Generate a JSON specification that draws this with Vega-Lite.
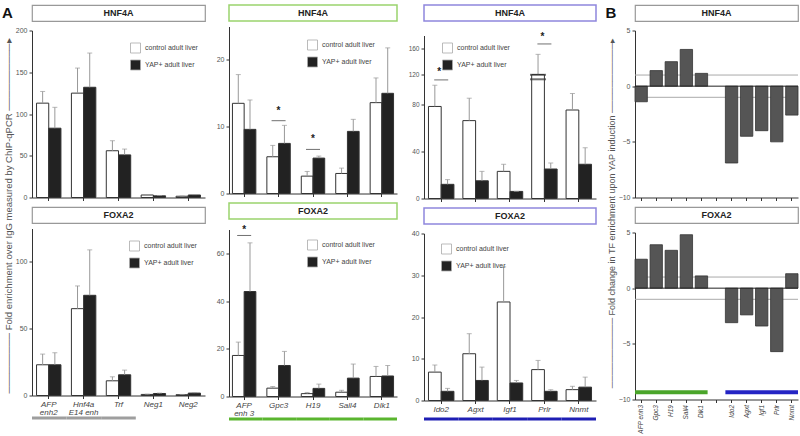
{
"$schema":"https://vega.github.io/schema/vega-lite/v6.json",
"background":"white",
"padding":{"left":0,"top":4,"right":2,"bottom":0},
"config":{"view":{"stroke":null},"font":"Liberation Sans",
 "axis":{"domainColor":"#333","tickColor":"#333","labelColor":"#444","labelFontSize":7,"tickSize":3,"grid":false,"labelPadding":2},
 "axisY":{"labelOverlap":false,"labelColor":"#555"},
 "axisX":{"labelFontStyle":"italic","labelFontSize":8,"labelAngle":0,"labelLineHeight":8},
 "legend":{"orient":"none","title":null,"symbolType":"square","symbolSize":100,"symbolStrokeColor":"#aaa","symbolStrokeWidth":0.8,"labelFontSize":7,"labelColor":"#444","rowPadding":2,"labelOffset":4}},
"datasets":{
 "c1h":[
  {"gene":"AFP|enh2","condition":"control adult liver","value":113,"hi":127},
  {"gene":"AFP|enh2","condition":"YAP+ adult liver","value":83,"hi":108},
  {"gene":"Hnf4a|E14 enh","condition":"control adult liver","value":125,"hi":155},
  {"gene":"Hnf4a|E14 enh","condition":"YAP+ adult liver","value":132,"hi":173},
  {"gene":"Trf","condition":"control adult liver","value":56,"hi":68},
  {"gene":"Trf","condition":"YAP+ adult liver","value":51,"hi":58},
  {"gene":"Neg1","condition":"control adult liver","value":3,"hi":3.6},
  {"gene":"Neg1","condition":"YAP+ adult liver","value":2,"hi":2.4},
  {"gene":"Neg2","condition":"control adult liver","value":1.5,"hi":1.8},
  {"gene":"Neg2","condition":"YAP+ adult liver","value":3,"hi":3.5}],
 "c1f":[
  {"gene":"AFP|enh2","condition":"control adult liver","value":23,"hi":31},
  {"gene":"AFP|enh2","condition":"YAP+ adult liver","value":23,"hi":32},
  {"gene":"Hnf4a|E14 enh","condition":"control adult liver","value":65,"hi":82},
  {"gene":"Hnf4a|E14 enh","condition":"YAP+ adult liver","value":75,"hi":109},
  {"gene":"Trf","condition":"control adult liver","value":11,"hi":14},
  {"gene":"Trf","condition":"YAP+ adult liver","value":15.5,"hi":19},
  {"gene":"Neg1","condition":"control adult liver","value":0.8,"hi":1},
  {"gene":"Neg1","condition":"YAP+ adult liver","value":1.5,"hi":1.8},
  {"gene":"Neg2","condition":"control adult liver","value":0.6,"hi":0.8},
  {"gene":"Neg2","condition":"YAP+ adult liver","value":1.8,"hi":2.2}],
 "c2h":[
  {"gene":"AFP|enh 3","condition":"control adult liver","value":13.5,"hi":17.8},
  {"gene":"AFP|enh 3","condition":"YAP+ adult liver","value":9.6,"hi":14},
  {"gene":"Gpc3","condition":"control adult liver","value":5.5,"hi":7.2},
  {"gene":"Gpc3","condition":"YAP+ adult liver","value":7.5,"hi":10.2},
  {"gene":"H19","condition":"control adult liver","value":2.6,"hi":3.3},
  {"gene":"H19","condition":"YAP+ adult liver","value":5.3,"hi":5.6},
  {"gene":"Sall4","condition":"control adult liver","value":3,"hi":3.8},
  {"gene":"Sall4","condition":"YAP+ adult liver","value":9.3,"hi":11.1},
  {"gene":"Dlk1","condition":"control adult liver","value":13.6,"hi":17.3},
  {"gene":"Dlk1","condition":"YAP+ adult liver","value":15,"hi":21.8}],
 "c2f":[
  {"gene":"AFP|enh 3","condition":"control adult liver","value":17.2,"hi":22.8},
  {"gene":"AFP|enh 3","condition":"YAP+ adult liver","value":44,"hi":64.4},
  {"gene":"Gpc3","condition":"control adult liver","value":3.5,"hi":4.2},
  {"gene":"Gpc3","condition":"YAP+ adult liver","value":13,"hi":18.9},
  {"gene":"H19","condition":"control adult liver","value":1.2,"hi":1.7},
  {"gene":"H19","condition":"YAP+ adult liver","value":3.4,"hi":5.2},
  {"gene":"Sall4","condition":"control adult liver","value":1.8,"hi":2.6},
  {"gene":"Sall4","condition":"YAP+ adult liver","value":7.7,"hi":13.6},
  {"gene":"Dlk1","condition":"control adult liver","value":8.4,"hi":12.6},
  {"gene":"Dlk1","condition":"YAP+ adult liver","value":8.6,"hi":13}],
 "c3h":[
  {"gene":"Ido2","condition":"control adult liver","value":78,"hi":96},
  {"gene":"Ido2","condition":"YAP+ adult liver","value":12,"hi":16},
  {"gene":"Agxt","condition":"control adult liver","value":66,"hi":85},
  {"gene":"Agxt","condition":"YAP+ adult liver","value":15,"hi":23},
  {"gene":"Igf1","condition":"control adult liver","value":23,"hi":29},
  {"gene":"Igf1","condition":"YAP+ adult liver","value":6,"hi":6},
  {"gene":"Prlr","condition":"control adult liver","value":120,"hi":151},
  {"gene":"Prlr","condition":"YAP+ adult liver","value":25,"hi":30},
  {"gene":"Nnmt","condition":"control adult liver","value":75,"hi":89},
  {"gene":"Nnmt","condition":"YAP+ adult liver","value":29,"hi":43}],
 "c3f":[
  {"gene":"Ido2","condition":"control adult liver","value":6.8,"hi":8.5},
  {"gene":"Ido2","condition":"YAP+ adult liver","value":2.2,"hi":2.9},
  {"gene":"Agxt","condition":"control adult liver","value":11.2,"hi":16},
  {"gene":"Agxt","condition":"YAP+ adult liver","value":4.8,"hi":8},
  {"gene":"Igf1","condition":"control adult liver","value":23.6,"hi":32},
  {"gene":"Igf1","condition":"YAP+ adult liver","value":4.2,"hi":4.8},
  {"gene":"Prlr","condition":"control adult liver","value":7.4,"hi":9.6},
  {"gene":"Prlr","condition":"YAP+ adult liver","value":2.2,"hi":2.6},
  {"gene":"Nnmt","condition":"control adult liver","value":2.6,"hi":3.4},
  {"gene":"Nnmt","condition":"YAP+ adult liver","value":3.2,"hi":5.6}],
 "s2h":[{"gene":"Gpc3","br":10.9,"star":12.4},{"gene":"H19","br":6.6,"star":8.1}],
 "s2f":[{"gene":"AFP|enh 3","br":67.5,"star":69.8}],
 "s3h":[{"gene":"Ido2","br":102,"star":124},{"gene":"Prlr","br":167,"star":177}],
 "brk":[{"gene":"Prlr","condition":"control adult liver","v":104},{"gene":"Prlr","condition":"control adult liver","v":119}],
 "bh":[{"gene":"AFP enh3","fc":-1.4},{"gene":"Gpc3","fc":1.4},{"gene":"H19","fc":2.2},{"gene":"Sall4","fc":3.3},{"gene":"Dlk1","fc":1.15},{"gene":"Ido2","fc":-6.9},{"gene":"Agxt","fc":-4.5},{"gene":"Igf1","fc":-4.0},{"gene":"Prlr","fc":-5.0},{"gene":"Nnmt","fc":-2.6}],
 "bf":[{"gene":"AFP enh3","fc":2.6},{"gene":"Gpc3","fc":3.9},{"gene":"H19","fc":3.4},{"gene":"Sall4","fc":4.8},{"gene":"Dlk1","fc":1.1},{"gene":"Ido2","fc":-3.1},{"gene":"Agxt","fc":-2.4},{"gene":"Igf1","fc":-3.4},{"gene":"Prlr","fc":-5.7},{"gene":"Nnmt","fc":1.3}]
},
"spacing":1,
"resolve":{"scale":{"color":"independent","xOffset":"independent"}},
"hconcat":[
 {"spacing":8,"vconcat":[
  {"width":13,"height":16,"data":{"values":[{"t":"A"}]},"mark":{"type":"text","fontSize":15,"fontWeight":"bold","dx":1,"color":"#111"},"encoding":{"text":{"field":"t"}}},
  {"width":13,"height":366,"data":{"values":[{"t":"───────── Fold enrichment over IgG measured by ChIP-qPCR ──────────▸"}]},"mark":{"type":"text","angle":270,"fontSize":9.5,"color":"#555","dy":2.5,"dx":-4},"encoding":{"text":{"field":"t"}}}
 ]},
 {"spacing":10,"resolve":{"scale":{"color":"independent","xOffset":"independent"}},"hconcat":[
  {"spacing":4.5,"resolve":{"scale":{"color":"independent","xOffset":"independent"}},"vconcat":[
   {"width":173,"height":16,"view":{"stroke":"#999","strokeWidth":1.2,"fill":"white"},"data":{"values":[{"t":"HNF4A"}]},"mark":{"type":"text","fontWeight":"bold","fontSize":9,"color":"#222"},"encoding":{"text":{"field":"t"}}},
   {"width":173,"height":167,"data":{"name":"c1h"},
    "encoding":{"x":{"field":"gene","type":"nominal","sort":null,"title":null,"scale":{"domain":["AFP|enh2","Hnf4a|E14 enh","Trf","Neg1","Neg2"],"paddingInner":0.3,"paddingOuter":0.13},"axis":{"labels":false}},
     "xOffset":{"field":"condition","type":"nominal","sort":null,"scale":{"domain":["control adult liver","YAP+ adult liver"],"paddingInner":0,"paddingOuter":0}}},
    "layer":[
     {"mark":{"type":"bar","stroke":"#333","strokeWidth":1},"encoding":{"y":{"field":"value","type":"quantitative","title":null,"scale":{"domain":[0,200],"nice":false},"axis":{"values":[0,50,100,150,200]}},
       "color":{"field":"condition","type":"nominal","scale":{"domain":["control adult liver","YAP+ adult liver"],"range":["#ffffff","#222222"]},"legend":{"legendX":98,"legendY":12}}}},
     {"mark":{"type":"rule","color":"#999"},"encoding":{"y":{"field":"hi","type":"quantitative","title":null},"y2":{"field":"value"}}},
     {"mark":{"type":"tick","color":"#999","thickness":1,"size":5},"encoding":{"y":{"field":"hi","type":"quantitative","title":null}}}
    ]},
   {"width":173,"height":16,"view":{"stroke":"#999","strokeWidth":1.2,"fill":"white"},"data":{"values":[{"t":"FOXA2"}]},"mark":{"type":"text","fontWeight":"bold","fontSize":9,"color":"#222"},"encoding":{"text":{"field":"t"}}},
   {"spacing":0,"resolve":{"scale":{"color":"independent","xOffset":"independent"}},"vconcat":[
    {"width":173,"height":167,"data":{"name":"c1f"},
     "encoding":{"x":{"field":"gene","type":"nominal","sort":null,"title":null,"scale":{"domain":["AFP|enh2","Hnf4a|E14 enh","Trf","Neg1","Neg2"],"paddingInner":0.3,"paddingOuter":0.13},"axis":{"labelExpr":"split(datum.label, '|')"}},
      "xOffset":{"field":"condition","type":"nominal","sort":null,"scale":{"domain":["control adult liver","YAP+ adult liver"],"paddingInner":0,"paddingOuter":0}}},
     "layer":[
      {"mark":{"type":"bar","stroke":"#333","strokeWidth":1},"encoding":{"y":{"field":"value","type":"quantitative","title":null,"scale":{"domain":[0,125],"nice":false},"axis":{"values":[0,25,50,75,100,125]}},
        "color":{"field":"condition","type":"nominal","scale":{"domain":["control adult liver","YAP+ adult liver"],"range":["#ffffff","#222222"]},"legend":{"legendX":97,"legendY":12}}}},
      {"mark":{"type":"rule","color":"#999"},"encoding":{"y":{"field":"hi","type":"quantitative","title":null},"y2":{"field":"value"}}},
      {"mark":{"type":"tick","color":"#999","thickness":1,"size":5},"encoding":{"y":{"field":"hi","type":"quantitative","title":null}}}
     ]},
    {"width":173,"height":3,"data":{"values":[{"gene":"AFP|enh2","set":"control loci"},{"gene":"Hnf4a|E14 enh","set":"control loci"},{"gene":"Trf","set":"control loci"}]},"mark":{"type":"bar"},
     "encoding":{"x":{"field":"gene","type":"nominal","sort":null,"scale":{"domain":["AFP|enh2","Hnf4a|E14 enh","Trf","Neg1","Neg2"],"paddingInner":0,"paddingOuter":0},"axis":null},"color":{"field":"set","type":"nominal","scale":{"range":["#9e9e9e"]},"legend":null}}}
   ]}
  ]},
  {"spacing":4.5,"resolve":{"scale":{"color":"independent","xOffset":"independent"}},"vconcat":[
   {"width":168,"height":16,"view":{"stroke":"#9bd36d","strokeWidth":1.5,"fill":"white"},"data":{"values":[{"t":"HNF4A"}]},"mark":{"type":"text","fontWeight":"bold","fontSize":9,"color":"#222"},"encoding":{"text":{"field":"t"}}},
   {"width":168,"height":167,
    "layer":[
     {"data":{"name":"c2h"},
      "encoding":{"x":{"field":"gene","type":"nominal","sort":null,"title":null,"scale":{"domain":["AFP|enh 3","Gpc3","H19","Sall4","Dlk1"],"paddingInner":0.32,"paddingOuter":0.1},"axis":{"labels":false}},
       "xOffset":{"field":"condition","type":"nominal","sort":null,"scale":{"domain":["control adult liver","YAP+ adult liver"],"paddingInner":0,"paddingOuter":0}}},
      "layer":[
       {"mark":{"type":"bar","stroke":"#333","strokeWidth":1},"encoding":{"y":{"field":"value","type":"quantitative","title":null,"scale":{"domain":[0,25],"nice":false},"axis":{"values":[0,5,10,15,20,25]}},
         "color":{"field":"condition","type":"nominal","scale":{"domain":["control adult liver","YAP+ adult liver"],"range":["#ffffff","#222222"]},"legend":{"legendX":78,"legendY":13}}}},
       {"mark":{"type":"rule","color":"#999"},"encoding":{"y":{"field":"hi","type":"quantitative","title":null},"y2":{"field":"value"}}},
       {"mark":{"type":"tick","color":"#999","thickness":1,"size":5},"encoding":{"y":{"field":"hi","type":"quantitative","title":null}}}
      ]},
     {"data":{"name":"s2h"},"encoding":{"x":{"field":"gene","type":"nominal","sort":null,"title":null}},"layer":[
       {"mark":{"type":"tick","color":"#333","thickness":1,"size":14},"encoding":{"y":{"field":"br","type":"quantitative","title":null}}},
       {"mark":{"type":"text","fontSize":10,"fontWeight":"bold","color":"#222"},"encoding":{"y":{"field":"star","type":"quantitative","title":null},"text":{"value":"*"}}}
     ]}
    ]},
   {"width":168,"height":16,"view":{"stroke":"#9bd36d","strokeWidth":1.5,"fill":"white"},"data":{"values":[{"t":"FOXA2"}]},"mark":{"type":"text","fontWeight":"bold","fontSize":9,"color":"#222"},"encoding":{"text":{"field":"t"}}},
   {"spacing":0,"resolve":{"scale":{"color":"independent","xOffset":"independent"}},"vconcat":[
    {"width":168,"height":167,
     "layer":[
      {"data":{"name":"c2f"},
       "encoding":{"x":{"field":"gene","type":"nominal","sort":null,"title":null,"scale":{"domain":["AFP|enh 3","Gpc3","H19","Sall4","Dlk1"],"paddingInner":0.32,"paddingOuter":0.1},"axis":{"labelExpr":"split(datum.label, '|')"}},
        "xOffset":{"field":"condition","type":"nominal","sort":null,"scale":{"domain":["control adult liver","YAP+ adult liver"],"paddingInner":0,"paddingOuter":0}}},
       "layer":[
        {"mark":{"type":"bar","stroke":"#333","strokeWidth":1},"encoding":{"y":{"field":"value","type":"quantitative","title":null,"scale":{"domain":[0,70],"nice":false},"axis":{"values":[0,10,20,30,40,50,60,70]}},
          "color":{"field":"condition","type":"nominal","scale":{"domain":["control adult liver","YAP+ adult liver"],"range":["#ffffff","#222222"]},"legend":{"legendX":78,"legendY":10}}}},
        {"mark":{"type":"rule","color":"#999"},"encoding":{"y":{"field":"hi","type":"quantitative","title":null},"y2":{"field":"value"}}},
        {"mark":{"type":"tick","color":"#999","thickness":1,"size":5},"encoding":{"y":{"field":"hi","type":"quantitative","title":null}}}
       ]},
      {"data":{"name":"s2f"},"encoding":{"x":{"field":"gene","type":"nominal","sort":null,"title":null}},"layer":[
        {"mark":{"type":"tick","color":"#333","thickness":1,"size":14},"encoding":{"y":{"field":"br","type":"quantitative","title":null}}},
        {"mark":{"type":"text","fontSize":10,"fontWeight":"bold","color":"#222"},"encoding":{"y":{"field":"star","type":"quantitative","title":null},"text":{"value":"*"}}}
      ]}
     ]},
    {"width":168,"height":3,"data":{"values":[{"gene":"AFP|enh 3","set":"fetal"},{"gene":"Gpc3","set":"fetal"},{"gene":"H19","set":"fetal"},{"gene":"Sall4","set":"fetal"},{"gene":"Dlk1","set":"fetal"}]},"mark":{"type":"bar"},
     "encoding":{"x":{"field":"gene","type":"nominal","sort":null,"scale":{"domain":["AFP|enh 3","Gpc3","H19","Sall4","Dlk1"],"paddingInner":0,"paddingOuter":0},"axis":null},"color":{"field":"set","type":"nominal","scale":{"range":["#5ab52f"]},"legend":null}}}
   ]}
  ]},
  {"spacing":4.5,"resolve":{"scale":{"color":"independent","xOffset":"independent"}},"vconcat":[
   {"width":172,"height":16,"view":{"stroke":"#8f86dd","strokeWidth":1.5,"fill":"white"},"data":{"values":[{"t":"HNF4A"}]},"mark":{"type":"text","fontWeight":"bold","fontSize":9,"color":"#222"},"encoding":{"text":{"field":"t"}}},
   {"width":172,"height":172,
    "layer":[
     {"data":{"name":"c3h"},
      "encoding":{"x":{"field":"gene","type":"nominal","sort":null,"title":null,"scale":{"domain":["Ido2","Agxt","Igf1","Prlr","Nnmt"],"paddingInner":0.26,"paddingOuter":0.13},"axis":{"labels":false}},
       "xOffset":{"field":"condition","type":"nominal","sort":null,"scale":{"domain":["control adult liver","YAP+ adult liver"],"paddingInner":0,"paddingOuter":0}}},
      "layer":[
       {"mark":{"type":"bar","stroke":"#333","strokeWidth":1},"encoding":{"y":{"field":"value","type":"quantitative","title":null,"scale":{"domain":[0,100,120,180],"range":[172,54,48,9],"nice":false,"zero":false},"axis":{"values":[0,20,40,60,80,100,120,140,160,180],"labelFontSize":6.5}},
         "color":{"field":"condition","type":"nominal","scale":{"domain":["control adult liver","YAP+ adult liver"],"range":["#ffffff","#222222"]},"legend":{"legendX":18,"legendY":16}}}},
       {"mark":{"type":"rule","color":"#999"},"encoding":{"y":{"field":"hi","type":"quantitative","title":null},"y2":{"field":"value"}}},
       {"mark":{"type":"tick","color":"#999","thickness":1,"size":5},"encoding":{"y":{"field":"hi","type":"quantitative","title":null}}}
      ]},
     {"data":{"name":"brk"},"mark":{"type":"tick","color":"#333","thickness":2,"size":16},"encoding":{"x":{"field":"gene","type":"nominal","sort":null,"title":null},"xOffset":{"field":"condition","type":"nominal","sort":null},"y":{"field":"v","type":"quantitative","title":null}}},
     {"data":{"name":"s3h"},"encoding":{"x":{"field":"gene","type":"nominal","sort":null,"title":null}},"layer":[
       {"mark":{"type":"tick","color":"#333","thickness":1,"size":14},"encoding":{"y":{"field":"br","type":"quantitative","title":null}}},
       {"mark":{"type":"text","fontSize":10,"fontWeight":"bold","color":"#222","dx":-2},"encoding":{"y":{"field":"star","type":"quantitative","title":null},"text":{"value":"*"}}}
     ]}
    ]},
   {"width":172,"height":16,"view":{"stroke":"#8f86dd","strokeWidth":1.5,"fill":"white"},"data":{"values":[{"t":"FOXA2"}]},"mark":{"type":"text","fontWeight":"bold","fontSize":9,"color":"#222"},"encoding":{"text":{"field":"t"}}},
   {"spacing":4,"resolve":{"scale":{"color":"independent","xOffset":"independent"}},"vconcat":[
    {"width":172,"height":167,"data":{"name":"c3f"},
     "encoding":{"x":{"field":"gene","type":"nominal","sort":null,"title":null,"scale":{"domain":["Ido2","Agxt","Igf1","Prlr","Nnmt"],"paddingInner":0.26,"paddingOuter":0.13}},
      "xOffset":{"field":"condition","type":"nominal","sort":null,"scale":{"domain":["control adult liver","YAP+ adult liver"],"paddingInner":0,"paddingOuter":0}}},
     "layer":[
      {"mark":{"type":"bar","stroke":"#333","strokeWidth":1},"encoding":{"y":{"field":"value","type":"quantitative","title":null,"scale":{"domain":[0,40],"nice":false},"axis":{"values":[0,10,20,30,40]}},
        "color":{"field":"condition","type":"nominal","scale":{"domain":["control adult liver","YAP+ adult liver"],"range":["#ffffff","#222222"]},"legend":{"legendX":17,"legendY":10}}}},
      {"mark":{"type":"rule","color":"#999"},"encoding":{"y":{"field":"hi","type":"quantitative","title":null},"y2":{"field":"value"}}},
      {"mark":{"type":"tick","color":"#999","thickness":1,"size":5},"encoding":{"y":{"field":"hi","type":"quantitative","title":null}}}
     ]},
    {"width":172,"height":3,"data":{"values":[{"gene":"Ido2","set":"adult"},{"gene":"Agxt","set":"adult"},{"gene":"Igf1","set":"adult"},{"gene":"Prlr","set":"adult"},{"gene":"Nnmt","set":"adult"}]},"mark":{"type":"bar"},
     "encoding":{"x":{"field":"gene","type":"nominal","sort":null,"scale":{"domain":["Ido2","Agxt","Igf1","Prlr","Nnmt"],"paddingInner":0,"paddingOuter":0},"axis":null},"color":{"field":"set","type":"nominal","scale":{"range":["#1e1eb4"]},"legend":null}}}
   ]}
  ]}
 ]},
 {"spacing":0,"resolve":{"scale":{"color":"independent"}},"hconcat":[
  {"spacing":8,"vconcat":[
   {"width":10,"height":16,"data":{"values":[{"t":"B"}]},"mark":{"type":"text","fontSize":15,"fontWeight":"bold","dx":8,"color":"#111"},"encoding":{"text":{"field":"t"}}},
   {"width":10,"height":366,"data":{"values":[{"t":"─────────── Fold change in TF enrichment upon YAP induction ───────────▸"}]},"mark":{"type":"text","angle":270,"fontSize":9,"color":"#555","dy":9,"dx":-1},"encoding":{"text":{"field":"t"}}}
  ]},
  {"spacing":4.5,"resolve":{"scale":{"color":"independent"}},"vconcat":[
   {"width":163,"height":16,"view":{"stroke":"#999","strokeWidth":1.2,"fill":"white"},"data":{"values":[{"t":"HNF4A"}]},"mark":{"type":"text","fontWeight":"bold","fontSize":9,"color":"#222"},"encoding":{"text":{"field":"t"}}},
   {"width":163,"height":167,"layer":[
     {"data":{"values":[{"ref":1},{"ref":-1}]},"mark":{"type":"rule","color":"#aaa","strokeWidth":1},"encoding":{"y":{"field":"ref","type":"quantitative","title":null,"scale":{"domain":[-10,5],"nice":false},"axis":{"values":[-10,-5,0,5]}}}},
     {"data":{"name":"bh"},"mark":{"type":"bar","color":"#555","stroke":"#333","strokeWidth":0.8},"encoding":{"x":{"field":"gene","type":"nominal","sort":null,"title":null,"scale":{"domain":["AFP enh3","Gpc3","H19","Sall4","Dlk1"," ","Ido2","Agxt","Igf1","Prlr","Nnmt"],"paddingInner":0.18,"paddingOuter":0},"axis":{"labels":false}},"y":{"field":"fc","type":"quantitative","title":null}}},
     {"data":{"values":[{"ref":0}]},"mark":{"type":"rule","color":"#222","strokeWidth":1},"encoding":{"y":{"field":"ref","type":"quantitative","title":null}}}
   ]},
   {"width":163,"height":16,"view":{"stroke":"#999","strokeWidth":1.2,"fill":"white"},"data":{"values":[{"t":"FOXA2"}]},"mark":{"type":"text","fontWeight":"bold","fontSize":9,"color":"#222"},"encoding":{"text":{"field":"t"}}},
   {"width":163,"height":167,"layer":[
     {"data":{"values":[{"ref":1},{"ref":-1}]},"mark":{"type":"rule","color":"#aaa","strokeWidth":1},"encoding":{"y":{"field":"ref","type":"quantitative","title":null,"scale":{"domain":[-10,5],"nice":false},"axis":{"values":[-10,-5,0,5]}}}},
     {"data":{"name":"bf"},"mark":{"type":"bar","color":"#555","stroke":"#333","strokeWidth":0.8},"encoding":{"x":{"field":"gene","type":"nominal","sort":null,"title":null,"scale":{"domain":["AFP enh3","Gpc3","H19","Sall4","Dlk1"," ","Ido2","Agxt","Igf1","Prlr","Nnmt"],"paddingInner":0.18,"paddingOuter":0},"axis":{"labelAngle":270,"labelFontSize":6.5}},"y":{"field":"fc","type":"quantitative","title":null}}},
     {"data":{"values":[{"ref":0}]},"mark":{"type":"rule","color":"#222","strokeWidth":1},"encoding":{"y":{"field":"ref","type":"quantitative","title":null}}},
     {"data":{"values":[{"from":"AFP enh3","to":"Dlk1","set":"fetal"},{"from":"Ido2","to":"Nnmt","set":"adult"}]},"mark":{"type":"rule","strokeWidth":4},"encoding":{"x":{"field":"from","type":"nominal","bandPosition":0,"title":null},"x2":{"field":"to","bandPosition":1},"y":{"datum":-9.35},"color":{"field":"set","type":"nominal","scale":{"domain":["fetal","adult"],"range":["#4aa52a","#2424c4"]},"legend":null}}}
   ]}
  ]}
 ]}
]
}
